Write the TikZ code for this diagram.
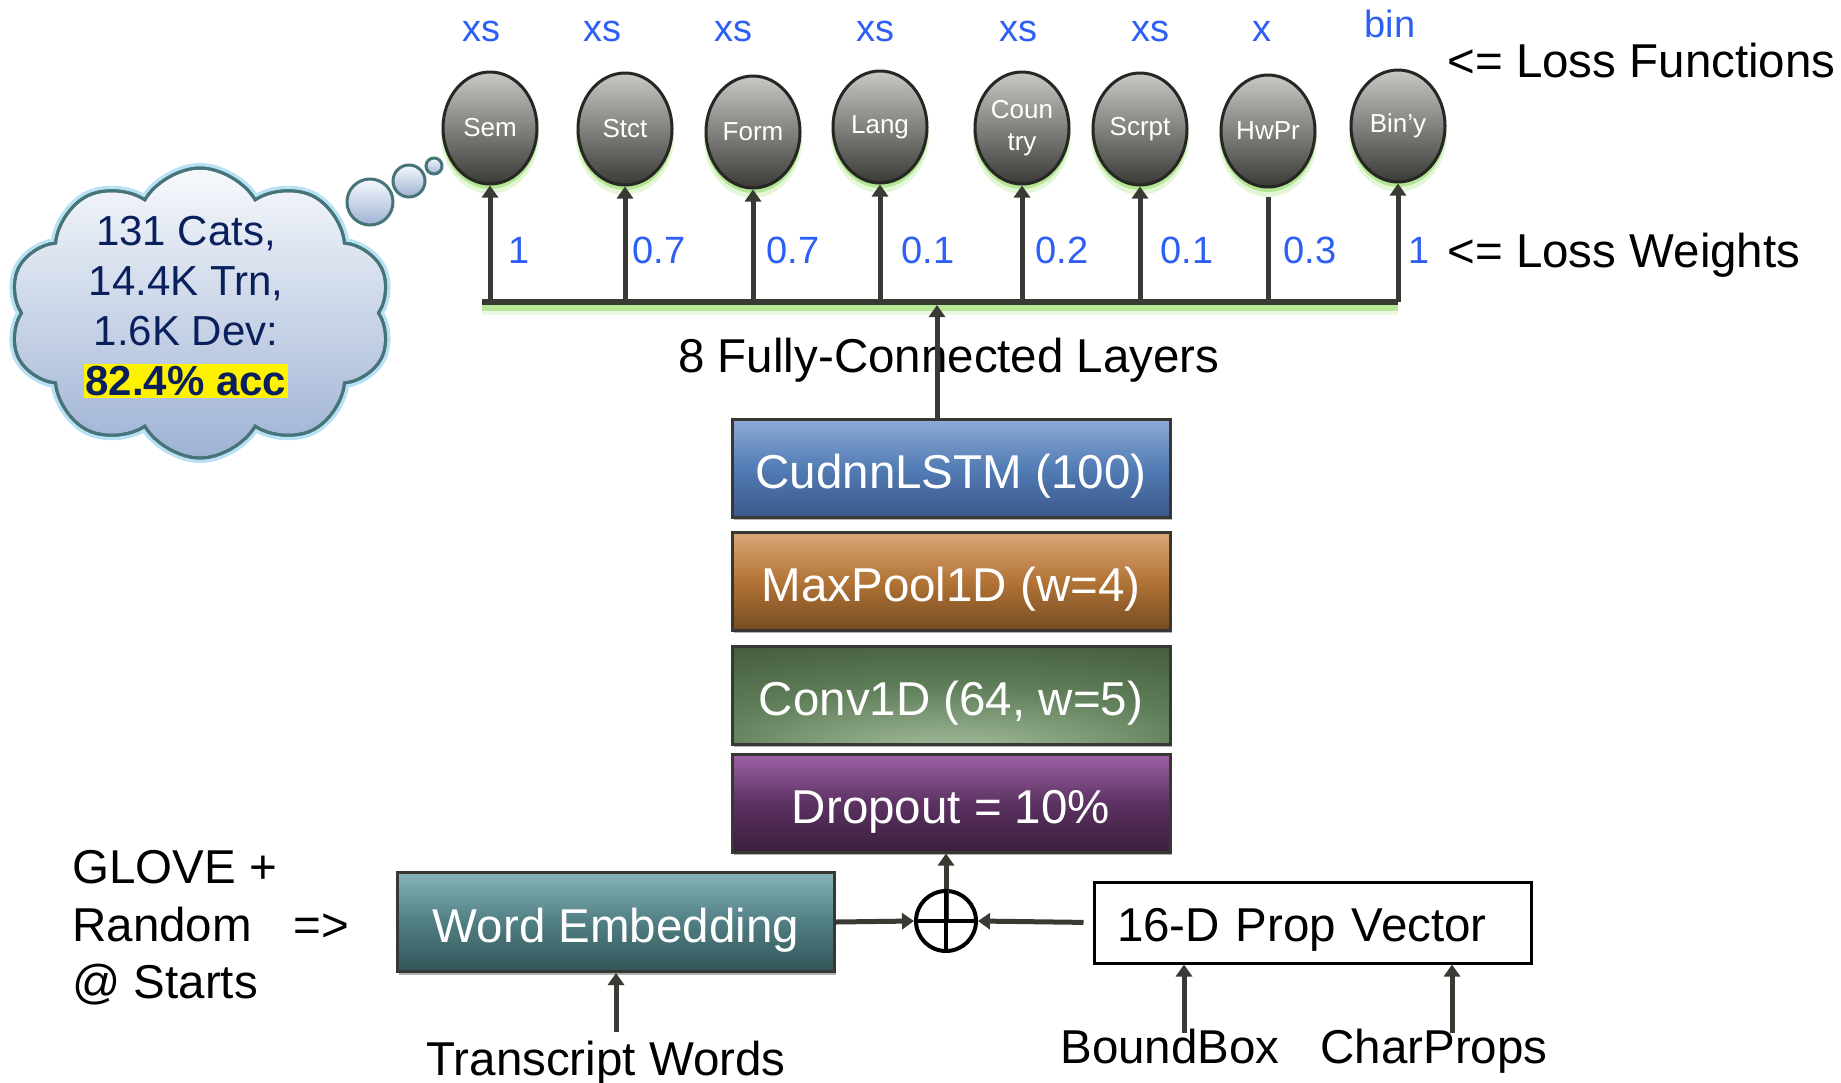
\documentclass[tikz,border=0pt]{standalone}
\usepackage{fontspec}
\setmainfont{Liberation Sans}
\usetikzlibrary{shapes.geometric,shapes.symbols,arrows.meta,shadows}

% palette
\definecolor{conn}{RGB}{58,58,52}
\definecolor{lblue}{RGB}{45,95,245}
\definecolor{glowgreen}{RGB}{120,210,60}
\definecolor{elltop}{RGB}{200,200,196}
\definecolor{ellbot}{RGB}{58,58,54}
\definecolor{ellrim}{RGB}{38,38,36}
\definecolor{boxrim}{RGB}{55,55,52}
\definecolor{lstmtop}{RGB}{143,171,214}
\definecolor{lstmmid}{RGB}{82,124,181}
\definecolor{lstmbot}{RGB}{58,88,138}
\definecolor{pooltop}{RGB}{218,168,120}
\definecolor{poolmid}{RGB}{178,116,54}
\definecolor{poolbot}{RGB}{118,76,34}
\definecolor{convdark}{RGB}{50,70,44}
\definecolor{convmid}{RGB}{95,125,88}
\definecolor{convlight}{RGB}{170,194,164}
\definecolor{droptop}{RGB}{158,98,166}
\definecolor{dropmid}{RGB}{92,50,98}
\definecolor{dropbot}{RGB}{58,30,60}
\definecolor{wetop}{RGB}{134,180,185}
\definecolor{wemid}{RGB}{80,126,130}
\definecolor{webot}{RGB}{50,86,90}
\definecolor{cloudtop}{RGB}{247,249,252}
\definecolor{cloudbot}{RGB}{158,178,212}
\definecolor{cloudrim}{RGB}{70,116,120}
\definecolor{cloudhalo}{RGB}{185,225,245}
\definecolor{cloudink}{RGB}{10,32,92}

% light spot near the bottom of the convolution layer
\pgfdeclareradialshading{convglow}{\pgfpoint{0bp}{-32bp}}{color(0bp)=(convlight); color(28bp)=(convmid); color(62bp)=(convdark); color(100bp)=(convdark)}

\pgfdeclarelayer{bg}
\pgfsetlayers{bg,main}
\setlength{\fboxsep}{1pt}

\tikzset{
  lossnode/.style={ellipse, draw=ellrim, line width=1.5pt, top color=elltop, bottom color=ellbot,
    minimum width=47pt, minimum height=56pt, inner sep=0pt, text=white, align=center,
    font=\fontsize{13}{16}\selectfont},
  layer/.style={rectangle, draw=boxrim, line width=1.5pt, minimum width=219pt, minimum height=49pt,
    text=white, font=\fontsize{23.75}{28}\selectfont, text height=20pt, text depth=0pt,
    drop shadow={shadow xshift=0.8pt, shadow yshift=-1.5pt, opacity=0.3, fill=black}},
  lbl/.style={text=lblue, inner sep=0pt, font=\fontsize{19}{22}\selectfont},
  plain/.style={inner sep=0pt, font=\fontsize{23.75}{28}\selectfont},
  wire/.style={draw=conn, line width=2.5pt},
  arr/.style={wire, -{Triangle[length=6pt,width=8pt]}},
  cloudbody/.style={cloud, cloud puffs=10, cloud puff arc=120, cloud ignores aspect,
    minimum width=191pt, minimum height=145pt, inner sep=0pt},
  bubble/.style={circle, draw=cloudrim, line width=1.5pt, top color=cloudtop, bottom color=cloudbot, inner sep=0pt},
}

\begin{document}
\begin{tikzpicture}[x=0.5pt,y=-0.5pt]
\useasboundingbox (0,0) rectangle (1841,1082);

% ---- output heads ----
\node[lossnode] (sem)   at (490,128)  {Sem};
\node[lossnode] (stct)  at (625,129)  {Stct};
\node[lossnode] (form)  at (753,132)  {Form};
\node[lossnode] (lang)  at (880,127)  {Lang};
\node[lossnode] (ctry)  at (1022,128) {Coun\\try};
\node[lossnode] (scrpt) at (1140,129) {Scrpt};
\node[lossnode] (hwpr)  at (1268,131) {HwPr};
\node[lossnode] (biny)  at (1398,126) {Bin’y};

% loss functions above the heads
\foreach \x/\y/\t/\n in {481/41/xs/f1, 602/41/xs/f2, 733/41/xs/f3, 875/41/xs/f4,
                         1018/41/xs/f5, 1150/41/xs/f6, 1262/41/x/f7, 1390/37/bin/f8}
  \node[lbl, anchor=base] (\n) at (\x,\y) {\t};

% loss weights beside the risers
\foreach \x/\t/\n in {508/1/w1, 632/0.7/w2, 766/0.7/w3, 901/0.1/w4,
                      1035/0.2/w5, 1160/0.1/w6, 1283/0.3/w7, 1408/1/w8}
  \node[lbl, anchor=base west] (\n) at (\x,263) {\t};

\node[plain, anchor=base west] (lossfn) at (1447,77)  {<= Loss Functions};
\node[plain, anchor=base west] (losswt) at (1447,267) {<= Loss Weights};

% ---- bus feeding the heads ----
\coordinate (busL) at (482,302);
\coordinate (busR) at (1398,302);
\draw[wire, line width=3pt] (busL) -- (busR);
\foreach \n in {sem,stct,form,lang,ctry,scrpt,biny}
  \draw[arr] (\n.south |- busL) -- (\n.south);
\draw[wire, shorten >=4pt] (hwpr.south |- busL) -- (hwpr.south);

% ---- layer stack ----
\node[layer, top color=lstmtop, bottom color=lstmbot, middle color=lstmmid] (lstm) at (951,468) {CudnnLSTM (100)};
\node[layer, top color=pooltop, bottom color=poolbot, middle color=poolmid] (pool) at (951,581) {MaxPool1D (w=4)};
\node[layer, shade, shading=convglow] (conv) at (951,695) {Conv1D (64, w=5)};
\node[layer, top color=droptop, bottom color=dropbot, middle color=dropmid] (drop) at (951,803) {Dropout = 10\%};

\node[plain, anchor=base west] (fc) at (678,372) {8 Fully-Connected Layers};
\draw[arr, shorten >=1.5pt] ([xshift=-7pt]lstm.north) -- ([xshift=-7pt]lstm.north |- busL);

% ---- inputs ----
\node[layer, top color=wetop, bottom color=webot, middle color=wemid,
      minimum width=218.5pt, minimum height=49.5pt] (wemb) at (616,922) {Word Embedding};
\node[draw=black, line width=1.5pt, fill=white, minimum height=40.5pt, inner xsep=11.5pt,
      text width=195.5pt, text height=19pt, text depth=0pt, align=left,
      font=\fontsize{23.75}{28}\selectfont] (prop) at (1312.5,922.5) {16-D Prop Vector};
\node[circle, draw=black, line width=2pt, minimum size=30pt, inner sep=0pt] (oplus) at (946,921) {};

\draw[arr] (oplus.center) -- (oplus.center |- drop.south);
\draw[black, line width=2pt] (oplus.north) -- (oplus.south) (oplus.west) -- (oplus.east);
\draw[arr] (wemb.east) -- (oplus.west);
\draw[arr, shorten <=4.5pt] (prop.west) -- (oplus.east);

\node[plain, anchor=base] (tw) at (606,1075) {Transcript Words};
\draw[arr, shorten <=4pt] (wemb.south |- tw.north) -- (wemb.south);

\node[plain, anchor=base] (bb) at (1170,1063) {BoundBox};
\node[plain, anchor=base] (cp) at (1434,1063) {CharProps};
\draw[arr, shorten <=-2.5pt] ([xshift=7pt]bb.north) -- ([xshift=7pt]bb.north |- prop.south);
\draw[arr, shorten <=-2.5pt] ([xshift=9pt]cp.north) -- ([xshift=9pt]cp.north |- prop.south);

\node[plain, anchor=base west] (g1) at (72,883) {GLOVE +};
\node[plain, anchor=base west] (g2) at (72,941) {Random};
\node[plain, anchor=base west] (g3) at (72,998) {@ Starts};
\node[plain, anchor=base west] (g4) at (293,941) {=>};

% ---- thought cloud ----
\node[cloudbody, draw=cloudrim, line width=1.5pt, top color=cloudtop, bottom color=cloudbot] (cloud) at (200,313) {};
\node[bubble, minimum size=23pt] (b1) at (370,202) {};
\node[bubble, minimum size=16pt] (b2) at (409,181) {};
\node[bubble, minimum size=8pt]  (b3) at (434,166) {};
\node[cloudbody, draw=cloudrim, line width=1.5pt] (cloudedge) at (200,313) {};
\node[align=center, text=cloudink, inner sep=0pt, font=\fontsize{21}{25}\selectfont] (stats) at (186,307)
  {131 Cats,\\14.4K Trn,\\1.6K Dev:\\\colorbox{yellow}{\bfseries 82.4\% acc}};

% ---- soft glows behind ----
\begin{pgfonlayer}{bg}
  \foreach \n in {sem,stct,form,lang,ctry,scrpt,hwpr,biny} {
    \fill[glowgreen, opacity=0.45] ([yshift=-2pt]\n.center) ellipse [x radius=48, y radius=57];
    \fill[glowgreen, opacity=0.2]  ([yshift=-4pt]\n.center) ellipse [x radius=49, y radius=58];
  }
  \draw[glowgreen, line width=3pt, opacity=0.45] ([yshift=-3pt]busL) -- ([yshift=-3pt]busR);
  \draw[glowgreen, line width=5pt, opacity=0.15] ([yshift=-4pt]busL) -- ([yshift=-4pt]busR);
  \node[cloudbody, draw=cloudhalo, line width=5pt] (halo) at (200,313) {};
\end{pgfonlayer}
\end{tikzpicture}
\end{document}
